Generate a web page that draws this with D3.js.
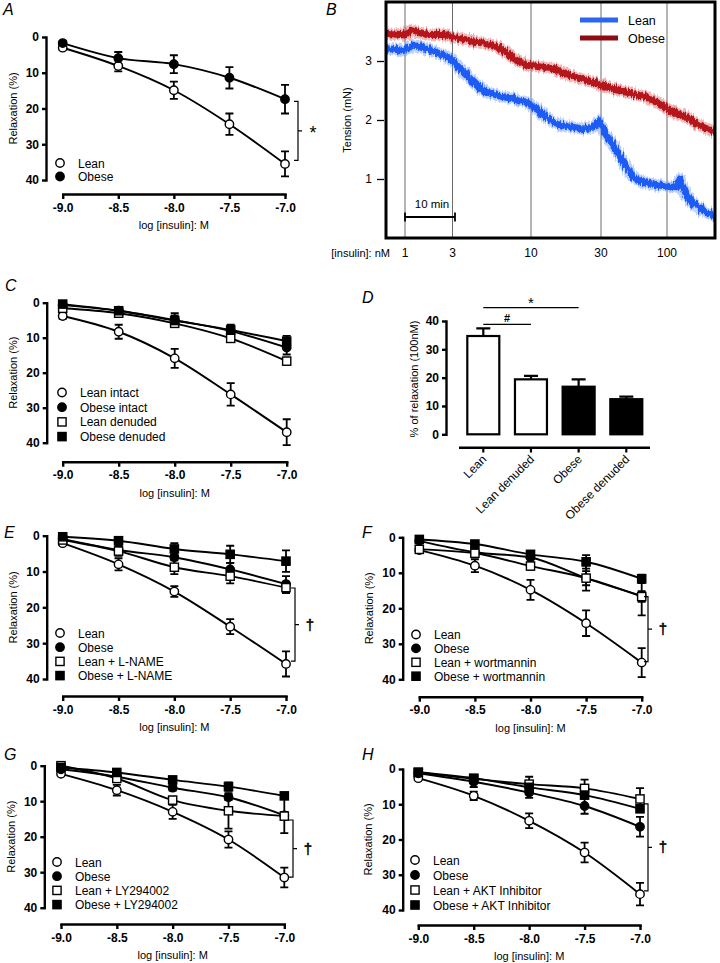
<!DOCTYPE html>
<html><head><meta charset="utf-8">
<script src="https://cdn.jsdelivr.net/npm/d3@7"></script>
<style>
body{margin:0;background:#fff}
svg{display:block}
text{font-family:"Liberation Sans",Arial,Helvetica,sans-serif;fill:#000}
</style>
</head><body>
<svg id="c" width="720" height="963"></svg>
<script>
// ---------------- DATA ----------------
const doses = [-9.0, -8.5, -8.0, -7.5, -7.0];
const xTickLabels = ["-9.0", "-8.5", "-8.0", "-7.5", "-7.0"];
const yTicks = [0, 10, 20, 30, 40];

// Panel A
const aLean = [3.0, 8.1, 14.9, 24.4, 35.5];
const aLeanErr = [0.5, 1.5, 2.4, 3.0, 3.5];
const aObese = [1.7, 5.9, 7.6, 11.4, 17.4];
const aObeseErr = [0.5, 1.7, 2.5, 3.0, 4.0];

// Panel B (tension traces, minutes vs mN)
const leanTime = [0, 3.8, 5.5, 8.1, 10.8, 12.8, 14.1, 16.1, 18.1, 20.1, 22.8, 25.5, 28.1, 30.1, 32.1, 34.1, 36.8, 39.5, 41.5, 42.5, 43.5, 45.5, 47.5, 49.5, 51.5, 53.5, 56.1, 58.1, 58.8, 60.1, 62.1, 64.1, 65.8];
const leanTension = [3.21, 3.18, 3.27, 3.21, 3.12, 3.04, 2.93, 2.76, 2.59, 2.47, 2.41, 2.36, 2.30, 2.19, 2.05, 1.93, 1.88, 1.85, 1.88, 1.99, 1.82, 1.56, 1.28, 1.02, 0.94, 0.91, 0.88, 0.85, 1.0, 0.71, 0.54, 0.43, 0.37];
const obeseTime = [0, 3.8, 4.8, 8.1, 11.5, 14.8, 18.1, 21.5, 24.1, 26.1, 28.1, 30.8, 33.5, 36.1, 38.8, 41.5, 44.1, 46.8, 49.5, 52.1, 54.8, 57.5, 60.1, 62.8, 65.8];
const obeseTension = [3.47, 3.44, 3.52, 3.45, 3.45, 3.38, 3.32, 3.27, 3.15, 3.01, 2.93, 2.90, 2.87, 2.78, 2.70, 2.64, 2.56, 2.50, 2.44, 2.39, 2.27, 2.13, 2.05, 1.90, 1.79];
const doseTimes = [3.8, 13.3, 29.0, 43.0, 56.2];
const doseLabels = ["1", "3", "10", "30", "100"];
const tensionTicks = [1, 2, 3];
const traceNames = ["Lean", "Obese"];

// Panel C
const cLeanIntact = [3.8, 8.3, 15.9, 26.2, 37.0];
const cLeanIntactErr = [0.8, 2.0, 2.7, 3.2, 3.7];
const cObeseIntact = [0.7, 2.3, 5.0, 8.1, 12.8];
const cObeseIntactErr = [0.5, 0.8, 2.0, 1.5, 2.0];
const cLeanDenuded = [1.6, 3.0, 5.9, 10.2, 16.7];
const cLeanDenudedErr = [0.5, 0.8, 1.0, 1.0, 1.0];
const cObeseDenuded = [0.4, 2.3, 5.1, 7.8, 11.0];
const cObeseDenudedErr = [0.5, 1.0, 1.5, 1.5, 1.5];

// Panel D
const dCategories = ["Lean", "Lean denuded", "Obese", "Obese denuded"];
const dValues = [34.7, 19.4, 16.8, 12.4];
const dErr = [2.7, 1.2, 2.6, 0.9];
const dFilled = [false, false, true, true];
const dTicks = [0, 10, 20, 30, 40];

// Panel E
const eLean = [2.1, 8.0, 15.6, 25.4, 35.8];
const eLeanErr = [0.5, 1.7, 1.5, 2.1, 3.5];
const eObese = [0.9, 4.0, 6.0, 9.4, 13.5];
const eObeseErr = [0.5, 1.2, 2.0, 1.8, 2.2];
const eLeanLN = [1.2, 4.3, 8.8, 11.3, 14.5];
const eLeanLNErr = [0.5, 1.3, 1.9, 2.0, 1.5];
const eObeseLN = [0.3, 1.4, 3.7, 5.2, 7.1];
const eObeseLNErr = [0.3, 0.6, 1.6, 2.4, 3.0];

// Panel F
const fLean = [3.6, 8.0, 14.8, 24.2, 35.3];
const fLeanErr = [0.5, 1.8, 2.8, 3.6, 4.1];
const fObese = [1.0, 4.2, 5.7, 11.5, 16.5];
const fObeseErr = [0.5, 1.5, 1.5, 3.5, 5.5];
const fLeanW = [3.4, 4.5, 8.1, 11.5, 16.7];
const fLeanWErr = [0.5, 1.0, 1.0, 2.0, 1.5];
const fObeseW = [0.6, 1.9, 4.8, 6.9, 11.7];
const fObeseWErr = [0.3, 0.8, 1.0, 1.9, 1.2];

// Panel G
const gLean = [2.3, 6.9, 13.0, 20.8, 31.5];
const gLeanErr = [0.5, 1.5, 2.0, 2.3, 2.8];
const gObese = [1.0, 3.1, 6.2, 8.9, 14.0];
const gObeseErr = [0.4, 0.8, 0.8, 0.8, 1.0];
const gLeanLY = [0.0, 3.6, 9.7, 12.7, 14.2];
const gLeanLYErr = [0.4, 1.0, 1.0, 5.0, 4.8];
const gObeseLY = [0.5, 1.9, 4.0, 5.9, 8.5];
const gObeseLYErr = [0.3, 0.6, 0.8, 1.2, 0.8];

// Panel H
const hLean = [2.6, 7.6, 14.7, 23.7, 35.5];
const hLeanErr = [0.4, 1.2, 2.1, 2.8, 3.2];
const hObese = [1.2, 3.6, 6.7, 10.5, 16.4];
const hObeseErr = [0.5, 1.5, 1.5, 2.2, 2.8];
const hLeanAKT = [1.0, 2.8, 4.3, 5.5, 8.5];
const hLeanAKTErr = [0.5, 1.0, 2.1, 2.5, 3.1];
const hObeseAKT = [0.9, 2.6, 5.2, 7.4, 11.3];
const hObeseAKTErr = [0.4, 0.8, 1.0, 1.0, 0.8];

// ---------------- DRAWING ----------------
const FONT = "'Liberation Sans', Arial, Helvetica, sans-serif";
const svg = d3.select("#c");

function panelLabel(t, x, y) {
  svg.append("text").attr("x", x).attr("y", y).attr("font-size", 16)
    .attr("font-style", "italic").text(t);
}

function styleAxis(sel, w, fs, bold) {
  sel.attr("font-family", FONT).attr("font-size", fs);
  sel.select(".domain").attr("stroke", "#000").attr("stroke-width", w).attr("stroke-linecap", "square");
  sel.selectAll(".tick line").attr("stroke", "#000").attr("stroke-width", w);
  sel.selectAll(".tick text").attr("fill", "#000").attr("font-weight", bold ? "bold" : "normal");
}

function marker(g, type, cx, cy) {
  const fill = type[0] === "o" ? "#fff" : "#000";
  if (type[1] === "c") {
    g.append("circle").attr("cx", cx).attr("cy", cy).attr("r", 4.2)
      .attr("fill", fill).attr("stroke", "#000").attr("stroke-width", 1.4);
  } else {
    g.append("rect").attr("x", cx - 4.1).attr("y", cy - 4.1).attr("width", 8.2).attr("height", 8.2)
      .attr("fill", fill).attr("stroke", "#000").attr("stroke-width", 1.4);
  }
}

function linePanel(cfg) {
  const g = svg.append("g");
  const x = d3.scaleLinear().domain([-9, -7]).range([cfg.x0, cfg.x1]);
  const y = d3.scaleLinear().domain([0, 40]).range([cfg.yTop, cfg.yBot]);

  const yAx = g.append("g").attr("transform", `translate(${cfg.yAxisX},0)`)
    .call(d3.axisLeft(y).tickValues(yTicks).tickSize(4).tickPadding(3).tickSizeOuter(0));
  styleAxis(yAx, 2.4, 12, true);

  const xAx = g.append("g").attr("transform", `translate(0,${cfg.xAxisY})`)
    .call(d3.axisBottom(x).tickValues(doses).tickFormat((d, i) => xTickLabels[i]).tickSize(5).tickPadding(4).tickSizeOuter(0));
  styleAxis(xAx, 2.4, 12, true);

  g.append("text").attr("x", (cfg.x0 + cfg.x1) / 2).attr("y", cfg.xAxisY + 35)
    .attr("text-anchor", "middle").attr("font-size", 11).text("log [insulin]: M");
  g.append("text").attr("transform", `translate(${cfg.yTitleX},${(cfg.yTop + cfg.yBot) / 2}) rotate(-90)`)
    .attr("text-anchor", "middle").attr("font-size", 11).text("Relaxation (%)");

  const line = d3.line().x(d => x(d.x)).y(d => y(d.y)).curve(d3.curveMonotoneX);
  cfg.series.forEach(s => {
    const pts = doses.map((d, i) => ({ x: d, y: s.vals[i] }));
    g.append("path").attr("d", line(pts)).attr("fill", "none").attr("stroke", "#000").attr("stroke-width", 1.9);
  });
  cfg.series.forEach(s => {
    doses.forEach((d, i) => {
      const cx = x(d), v = s.vals[i], e = s.errs[i];
      const y1 = y(v - e), y2 = y(v + e);
      g.append("path").attr("d", `M${cx},${y1}V${y2}M${cx - 4},${y1}H${cx + 4}M${cx - 4},${y2}H${cx + 4}`)
        .attr("stroke", "#000").attr("stroke-width", 1.8).attr("fill", "none");
    });
  });
  cfg.series.forEach(s => {
    doses.forEach((d, i) => marker(g, s.type, x(d), y(s.vals[i])));
  });

  cfg.series.forEach((s, i) => {
    const ly = cfg.legendY0 + i * cfg.legendDy;
    marker(g, s.type, cfg.legendX, ly);
    g.append("text").attr("x", cfg.legendX + 18).attr("y", ly + 4.5).attr("font-size", 12).text(s.name);
  });

  const b = cfg.bracket;
  if (b) {
    const by1 = y(b.v1), by2 = y(b.v2), bm = (by1 + by2) / 2;
    g.append("path").attr("d", `M${b.x - 4},${by1}H${b.x}V${by2}H${b.x - 4}M${b.x},${bm}H${b.x + 4}`)
      .attr("stroke", "#000").attr("stroke-width", 1.2).attr("fill", "none");
    const isStar = b.sym === "*";
    g.append("text").attr("x", b.x + 15).attr("y", bm + (isStar ? 8 : 5)).attr("text-anchor", "middle")
      .attr("font-size", isStar ? 18 : 15)
      .attr("stroke", "#000").attr("stroke-width", isStar ? 0 : 0.5)
      .style("fill", "#000")
      .text(b.sym);
  }
  panelLabel(cfg.label, cfg.labelX, cfg.labelY);
}

// Panel A
linePanel({
  label: "A", labelX: 3, labelY: 15,
  yAxisX: 46, yTop: 37, yBot: 180, xAxisY: 194, x0: 62.7, x1: 285, yTitleX: 17,
  series: [
    { vals: aLean, errs: aLeanErr, type: "oc", name: "Lean" },
    { vals: aObese, errs: aObeseErr, type: "fc", name: "Obese" }
  ],
  legendX: 60, legendY0: 163, legendDy: 13.5,
  bracket: { x: 298, v1: 18, v2: 34.5, sym: "*" }
});

// Panel C
linePanel({
  label: "C", labelX: 5, labelY: 291,
  yAxisX: 46.7, yTop: 302.7, yBot: 442.7, xAxisY: 461.7, x0: 62.7, x1: 286.7, yTitleX: 17,
  series: [
    { vals: cLeanIntact, errs: cLeanIntactErr, type: "oc", name: "Lean intact" },
    { vals: cObeseIntact, errs: cObeseIntactErr, type: "fc", name: "Obese intact" },
    { vals: cLeanDenuded, errs: cLeanDenudedErr, type: "os", name: "Lean denuded" },
    { vals: cObeseDenuded, errs: cObeseDenudedErr, type: "fs", name: "Obese denuded" }
  ],
  legendX: 62, legendY0: 392.5, legendDy: 14.7,
  bracket: null
});

// Panel E
linePanel({
  label: "E", labelX: 4, labelY: 538,
  yAxisX: 46.7, yTop: 535.7, yBot: 679, xAxisY: 696, x0: 62.7, x1: 286, yTitleX: 17,
  series: [
    { vals: eLean, errs: eLeanErr, type: "oc", name: "Lean" },
    { vals: eObese, errs: eObeseErr, type: "fc", name: "Obese" },
    { vals: eLeanLN, errs: eLeanLNErr, type: "os", name: "Lean + L-NAME" },
    { vals: eObeseLN, errs: eObeseLNErr, type: "fs", name: "Obese + L-NAME" }
  ],
  legendX: 60, legendY0: 633, legendDy: 14.2,
  bracket: { x: 295, v1: 14.6, v2: 35, sym: "†" }
});

// Panel F
linePanel({
  label: "F", labelX: 362, labelY: 538,
  yAxisX: 402.7, yTop: 537.3, yBot: 679.3, xAxisY: 696.7, x0: 419.3, x1: 641.7, yTitleX: 373,
  series: [
    { vals: fLean, errs: fLeanErr, type: "oc", name: "Lean" },
    { vals: fObese, errs: fObeseErr, type: "fc", name: "Obese" },
    { vals: fLeanW, errs: fLeanWErr, type: "os", name: "Lean + wortmannin" },
    { vals: fObeseW, errs: fObeseWErr, type: "fs", name: "Obese + wortmannin" }
  ],
  legendX: 416, legendY0: 634.5, legendDy: 13.9,
  bracket: { x: 648, v1: 16.7, v2: 35, sym: "†" }
});

// Panel G
linePanel({
  label: "G", labelX: 4, labelY: 760,
  yAxisX: 44.3, yTop: 765.7, yBot: 907.7, xAxisY: 924, x0: 61, x1: 284.3, yTitleX: 15,
  series: [
    { vals: gLean, errs: gLeanErr, type: "oc", name: "Lean" },
    { vals: gObese, errs: gObeseErr, type: "fc", name: "Obese" },
    { vals: gLeanLY, errs: gLeanLYErr, type: "os", name: "Lean + LY294002" },
    { vals: gObeseLY, errs: gObeseLYErr, type: "fs", name: "Obese + LY294002" }
  ],
  legendX: 57, legendY0: 862, legendDy: 14.2,
  bracket: { x: 293, v1: 15.3, v2: 31.4, sym: "†" }
});

// Panel H
linePanel({
  label: "H", labelX: 362, labelY: 760,
  yAxisX: 402.7, yTop: 769, yBot: 910, xAxisY: 925, x0: 418.3, x1: 640, yTitleX: 372,
  series: [
    { vals: hLean, errs: hLeanErr, type: "oc", name: "Lean" },
    { vals: hObese, errs: hObeseErr, type: "fc", name: "Obese" },
    { vals: hLeanAKT, errs: hLeanAKTErr, type: "os", name: "Lean + AKT Inhibitor" },
    { vals: hObeseAKT, errs: hObeseAKTErr, type: "fs", name: "Obese + AKT Inhibitor" }
  ],
  legendX: 415, legendY0: 860, legendDy: 15,
  bracket: { x: 648, v1: 9.9, v2: 34.6, sym: "†" }
});

// ---------------- Panel B ----------------
(function () {
  const g = svg.append("g");
  const L = 386, R = 715, T = 2, B = 238;
  const x = d3.scaleLinear().domain([0, 65.8]).range([L, R]);
  const y = d3.scaleLinear().domain([0, 4]).range([B, T]);

  const defs = g.append("defs");
  defs.append("clipPath").attr("id", "clipB").append("rect")
    .attr("x", L).attr("y", T).attr("width", R - L).attr("height", B - T);
  // recording texture (visual style only)
  const flt = defs.append("filter").attr("id", "rough")
    .attr("filterUnits", "userSpaceOnUse").attr("x", L).attr("y", T).attr("width", R - L).attr("height", B - T);
  flt.append("feTurbulence").attr("type", "fractalNoise").attr("baseFrequency", "0.6 0.08")
    .attr("numOctaves", 2).attr("seed", 4).attr("result", "t");
  flt.append("feDisplacementMap").attr("in", "SourceGraphic").attr("in2", "t")
    .attr("scale", 7).attr("xChannelSelector", "R").attr("yChannelSelector", "G");

  g.selectAll(".dl").data(doseTimes).enter().append("line")
    .attr("x1", d => x(d)).attr("x2", d => x(d)).attr("y1", T).attr("y2", B)
    .attr("stroke", "#6b6b6b").attr("stroke-width", 1);

  const line = d3.line().x(d => x(d[0])).y(d => y(d[1])).curve(d3.curveLinear);
  const traces = [
    { t: obeseTime, v: obeseTension, c: "#b5121c", halo: "#d94a50" },
    { t: leanTime, v: leanTension, c: "#1f5cf5", halo: "#5a8cff" }
  ];
  const tg = g.append("g").attr("clip-path", "url(#clipB)");
  traces.forEach(tr => {
    const pts = tr.t.map((t, i) => [t, tr.v[i]]);
    const tr2 = tg.append("g").attr("filter", "url(#rough)");
    tr2.append("path").attr("d", line(pts)).attr("fill", "none").attr("stroke", tr.halo)
      .attr("stroke-width", 12).attr("stroke-opacity", 0.4).attr("stroke-linejoin", "round");
    tr2.append("path").attr("d", line(pts)).attr("fill", "none").attr("stroke", tr.c)
      .attr("stroke-width", 7).attr("stroke-linejoin", "round");
  });

  g.append("rect").attr("x", L).attr("y", T).attr("width", R - L).attr("height", B - T)
    .attr("fill", "none").attr("stroke", "#000").attr("stroke-width", 3);

  const yAx = g.append("g").attr("transform", `translate(${L - 2},0)`)
    .call(d3.axisLeft(y).tickValues(tensionTicks).tickSize(7).tickPadding(5).tickFormat(d3.format("d")));
  yAx.select(".domain").remove();
  yAx.attr("font-family", FONT).attr("font-size", 12);
  yAx.selectAll(".tick line").attr("stroke", "#000").attr("stroke-width", 1.3);
  yAx.selectAll(".tick text").attr("fill", "#000");

  g.append("text").attr("transform", `translate(351,120) rotate(-90)`).attr("text-anchor", "middle")
    .attr("font-size", 11).text("Tension (mN)");

  g.selectAll(".dlab").data(doseTimes).enter().append("text")
    .attr("x", d => x(d)).attr("y", 257).attr("text-anchor", "middle").attr("font-size", 12)
    .text((d, i) => doseLabels[i]);
  g.append("text").attr("x", 390).attr("y", 257).attr("text-anchor", "end").attr("font-size", 11)
    .text("[insulin]: nM");

  const s0 = x(doseTimes[0]), s1 = x(doseTimes[0] + 10);
  g.append("path").attr("d", `M${s0},217H${s1}M${s0},212.5V221.5M${s1},212.5V221.5`)
    .attr("stroke", "#000").attr("stroke-width", 1.8).attr("fill", "none");
  g.append("text").attr("x", (s0 + s1) / 2 + 2).attr("y", 208).attr("text-anchor", "middle")
    .attr("font-size", 11.5).text("10 min");

  const legC = ["#2a66f0", "#8e0c12"];
  traceNames.forEach((n, i) => {
    const ly = 20 + i * 18;
    g.append("line").attr("x1", 580).attr("x2", 618).attr("y1", ly).attr("y2", ly)
      .attr("stroke", legC[i]).attr("stroke-width", 5);
    g.append("text").attr("x", 628).attr("y", ly + 4.5).attr("font-size", 12.5).text(n);
  });

  panelLabel("B", 326, 15);
})();

// ---------------- Panel D ----------------
(function () {
  const g = svg.append("g");
  const x = d3.scalePoint().domain(dCategories).range([483.3, 626.3]);
  const y = d3.scaleLinear().domain([0, 40]).range([434.3, 321]);
  const bw = 32;

  const yAx = g.append("g").attr("transform", "translate(446,0)")
    .call(d3.axisLeft(y).tickValues(dTicks).tickSize(4).tickPadding(3).tickSizeOuter(0));
  styleAxis(yAx, 2.4, 12, true);

  dCategories.forEach((c, i) => {
    const cx = x(c), top = y(dValues[i]), etop = y(dValues[i] + dErr[i]);
    g.append("path").attr("d", `M${cx},${top}V${etop}M${cx - 7},${etop}H${cx + 7}`)
      .attr("stroke", "#000").attr("stroke-width", 2.2).attr("fill", "none");
    g.append("rect").attr("x", cx - bw / 2).attr("y", top).attr("width", bw).attr("height", y(0) - top)
      .attr("fill", dFilled[i] ? "#000" : "#fff").attr("stroke", "#000").attr("stroke-width", 2.2);
  });

  g.append("line").attr("x1", 459).attr("x2", 650).attr("y1", 447.7).attr("y2", 447.7)
    .attr("stroke", "#000").attr("stroke-width", 2.4);
  dCategories.forEach((c, i) => {
    const cx = x(c);
    g.append("line").attr("x1", cx).attr("x2", cx).attr("y1", 447.7).attr("y2", 452.5)
      .attr("stroke", "#000").attr("stroke-width", 2.2);
    g.append("text").attr("transform", `translate(${cx + 4},${460}) rotate(-45)`)
      .attr("text-anchor", "end").attr("font-size", 12).text(c);
  });

  g.append("text").attr("transform", "translate(418,379) rotate(-90)").attr("text-anchor", "middle")
    .attr("font-size", 11).text("% of relaxation (100nM)");

  const xl = x(dCategories[0]);
  g.append("line").attr("x1", xl).attr("x2", x(dCategories[2])).attr("y1", 307.7).attr("y2", 307.7)
    .attr("stroke", "#000").attr("stroke-width", 1.3);
  g.append("text").attr("x", (xl + x(dCategories[2])) / 2).attr("y", 308).attr("text-anchor", "middle")
    .attr("font-size", 15).text("*");
  g.append("line").attr("x1", xl).attr("x2", x(dCategories[1])).attr("y1", 324.3).attr("y2", 324.3)
    .attr("stroke", "#000").attr("stroke-width", 1.3);
  g.append("text").attr("x", (xl + x(dCategories[1])) / 2).attr("y", 322).attr("text-anchor", "middle")
    .attr("font-size", 11).attr("font-weight", "bold").text("#");

  panelLabel("D", 362, 303);
})();
</script>
</body></html>
